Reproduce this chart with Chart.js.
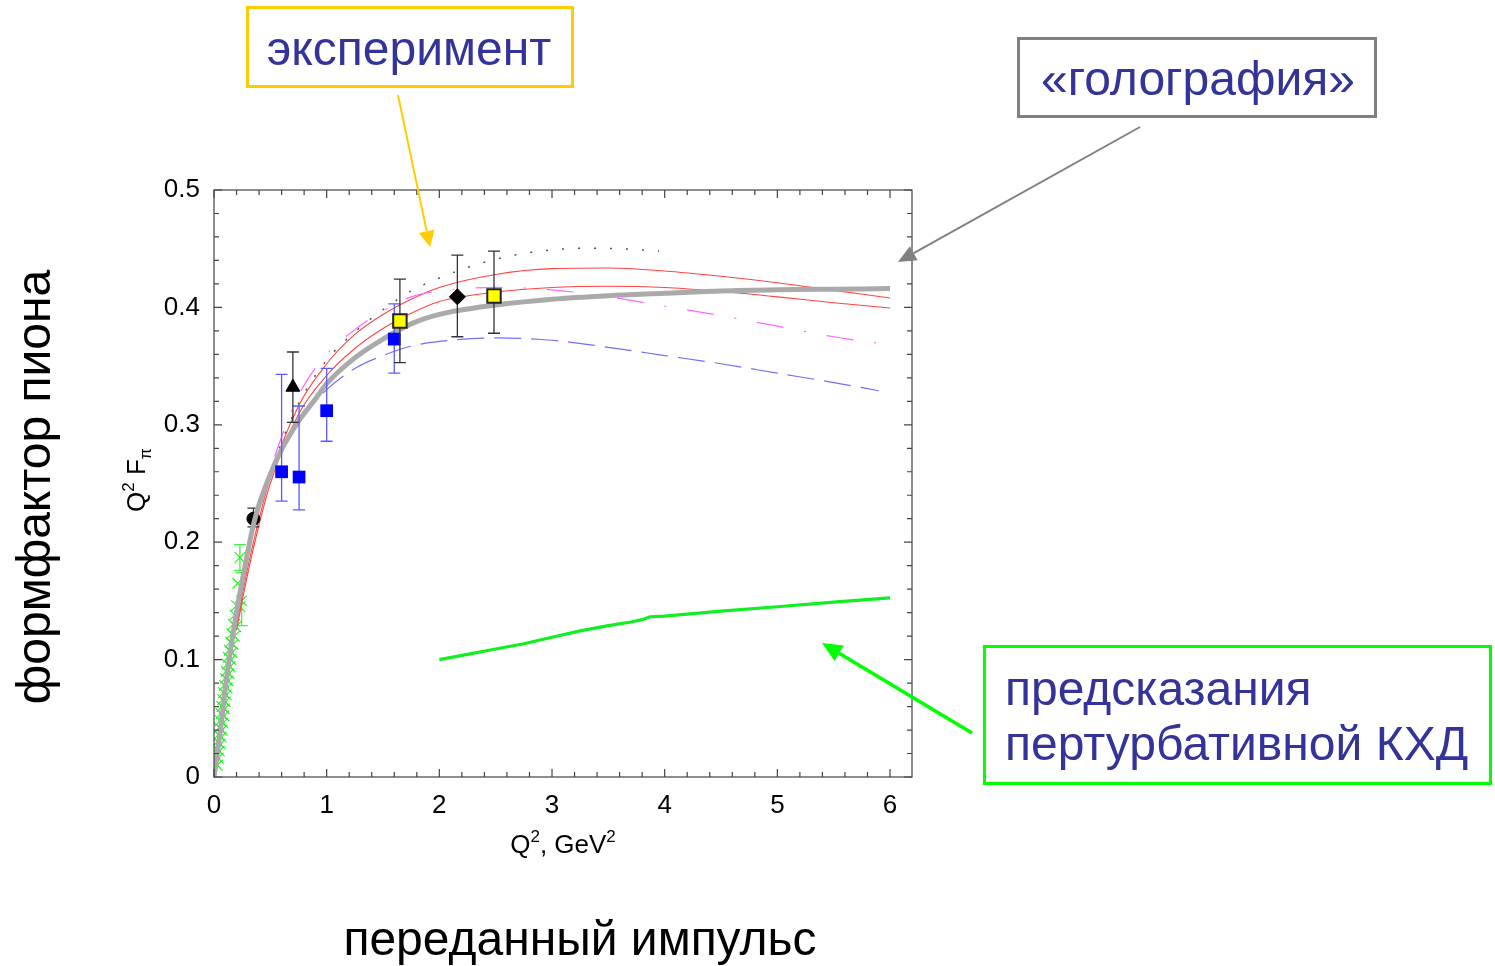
<!DOCTYPE html>
<html><head><meta charset="utf-8">
<script src="https://cdn.jsdelivr.net/npm/chart.js@4/dist/chart.umd.min.js"></script>
<style>html,body{margin:0;padding:0;background:#fff;overflow:hidden}canvas{display:block}</style>
</head><body>
<canvas id="c" width="1495" height="966"></canvas>
<script>
// ---------- data ----------
const xTicks = [0, 1, 2, 3, 4, 5, 6];
const xTickLabels = ['0', '1', '2', '3', '4', '5', '6'];
const yTicks = [0, 0.1, 0.2, 0.3, 0.4, 0.5];
const yTickLabels = ['0', '0.1', '0.2', '0.3', '0.4', '0.5'];

// holographic model (thick grey)
const holoQ2 = [0, 0.03, 0.06, 0.1, 0.15, 0.2, 0.25, 0.3, 0.35, 0.4, 0.5, 0.6, 0.75, 0.9, 1.0, 1.25, 1.5, 1.75, 2.0, 2.5, 3.0, 3.5, 4.0, 4.5, 5.0, 5.5, 6.0];
const holoF  = [0, 0.02, 0.042, 0.075, 0.11, 0.14, 0.167, 0.192, 0.215, 0.232, 0.258, 0.279, 0.303, 0.322, 0.335, 0.357, 0.373, 0.386, 0.394, 0.402, 0.407, 0.41, 0.412, 0.414, 0.415, 0.4155, 0.416];

// red band
const redQ2  = [0.2, 0.25, 0.35, 0.5, 0.75, 1.0, 1.25, 1.5, 1.75, 2.0, 2.5, 3.0, 3.5, 4.0, 4.5, 5.0, 5.5, 6.0];
const redUpF = [0.128, 0.155, 0.2, 0.255, 0.316, 0.352, 0.377, 0.394, 0.407, 0.417, 0.428, 0.433, 0.4335, 0.431, 0.4265, 0.421, 0.4145, 0.408];
const redLoF = [0.125, 0.15, 0.195, 0.25, 0.309, 0.342, 0.365, 0.382, 0.395, 0.405, 0.413, 0.417, 0.418, 0.417, 0.4135, 0.409, 0.404, 0.3995];

// dotted black
const dotQ2 = [0, 0.1, 0.2, 0.35, 0.5, 0.75, 1.0, 1.25, 1.5, 1.75, 2.0, 2.25, 2.5, 2.75, 3.0, 3.3, 3.6, 3.95];
const dotF  = [0, 0.075, 0.14, 0.215, 0.26, 0.318, 0.355, 0.379, 0.398, 0.414, 0.425, 0.434, 0.441, 0.446, 0.449, 0.4505, 0.45, 0.448];

// magenta dash-dot
const magQ2 = [0.35, 0.5, 0.75, 1.0, 1.25, 1.5, 1.75, 2.0, 2.5, 3.0, 3.5, 4.0, 4.5, 5.0, 5.5, 6.0];
const magF  = [0.215, 0.262, 0.325, 0.36, 0.381, 0.397, 0.409, 0.414, 0.417, 0.415, 0.409, 0.401, 0.393, 0.384, 0.375, 0.368];

// blue long dash
const blueQ2 = [0.75, 1.0, 1.25, 1.5, 1.75, 2.0, 2.5, 3.0, 3.5, 4.0, 4.5, 5.0, 5.5, 5.9];
const blueF  = [0.303, 0.33, 0.348, 0.359, 0.367, 0.371, 0.374, 0.372, 0.366, 0.359, 0.352, 0.344, 0.336, 0.329];

// perturbative QCD (green)
const pqcdQ2 = [2.0, 2.25, 2.5, 2.75, 3.0, 3.25, 3.5, 3.7, 3.8, 3.87, 4.0, 4.5, 5.0, 5.5, 6.0];
const pqcdF  = [0.1, 0.1045, 0.109, 0.1135, 0.119, 0.1245, 0.129, 0.132, 0.134, 0.1365, 0.137, 0.1413, 0.145, 0.149, 0.1525];

// low-Q2 data (green crosses)
const na7Q2 = [0.008, 0.03, 0.016, 0.038, 0.024, 0.047, 0.032, 0.056, 0.04, 0.064, 0.048, 0.072, 0.056, 0.08, 0.063, 0.087, 0.07, 0.094, 0.077, 0.1, 0.084, 0.108, 0.092, 0.116, 0.101, 0.125, 0.109, 0.133, 0.118, 0.142, 0.126, 0.15, 0.135, 0.159, 0.146, 0.17, 0.157, 0.181, 0.171, 0.195, 0.185, 0.2, 0.23, 0.21, 0.23, 0.245];
const na7F  = [0.012, 0.01, 0.018, 0.016, 0.024, 0.022, 0.03, 0.028, 0.036, 0.034, 0.042, 0.04, 0.048, 0.046, 0.054, 0.052, 0.06, 0.058, 0.066, 0.064, 0.072, 0.07, 0.078, 0.076, 0.084, 0.082, 0.09, 0.088, 0.096, 0.094, 0.102, 0.1, 0.108, 0.106, 0.115, 0.113, 0.122, 0.12, 0.13, 0.128, 0.138, 0.146, 0.145, 0.165, 0.187, 0.15];
const na7Lo = [null, null, null, null, null, null, null, null, null, null, null, null, null, null, null, null, null, null, null, null, null, null, null, null, null, null, null, null, null, null, null, null, null, null, null, null, null, null, null, null, null, null, null, null, 0.176, 0.129];
const na7Hi = [null, null, null, null, null, null, null, null, null, null, null, null, null, null, null, null, null, null, null, null, null, null, null, null, null, null, null, null, null, null, null, null, null, null, null, null, null, null, null, null, null, null, null, null, 0.198, 0.174];

// experimental points
const circQ2 = [0.35],  circF = [0.22],  circLo = [0.213], circHi = [0.229];
const triQ2  = [0.70],  triF  = [0.332], triLo  = [0.302], triHi  = [0.362];
const bsqQ2  = [0.60, 0.755, 1.0, 1.6];
const bsqF   = [0.26, 0.2555, 0.312, 0.373];
const bsqLo  = [0.235, 0.2275, 0.286, 0.344];
const bsqHi  = [0.343, 0.316, 0.348, 0.403];
const ysqQ2  = [1.65, 2.485];
const ysqF   = [0.3884, 0.4097];
const ysqLo  = [0.353, 0.378];
const ysqHi  = [0.424, 0.448];
const diaQ2  = [2.16], diaF = [0.409], diaLo = [0.375], diaHi = [0.4446];

// ---------- helpers ----------
const pts = (xs, ys) => xs.map((x, i) => ({ x: x, y: ys[i] }));
const FONT = "'Liberation Sans', Arial, sans-serif";
Chart.defaults.font.family = FONT;

const curve = (xs, ys, color, width, dash, order, extra) => Object.assign({
  data: pts(xs, ys), borderColor: color, backgroundColor: color, borderWidth: width,
  borderDash: dash || [], pointRadius: 0, showLine: true, fill: false,
  cubicInterpolationMode: 'monotone', order: order
}, extra || {});

const marks = (xs, ys, lo, hi, style, r, fill, stroke, bw, errColor, order) => ({
  data: pts(xs, ys), showLine: false, pointStyle: style, pointRadius: r,
  backgroundColor: fill, borderColor: stroke, borderWidth: bw, order: order,
  errLo: lo, errHi: hi, errColor: errColor
});

// ---------- plugins ----------
const errorBars = {
  id: 'errorBars',
  beforeDatasetDraw(chart, args) {
    const ds = chart.data.datasets[args.index];
    if (!ds.errLo) return;
    const xs = chart.scales.x, ys = chart.scales.y, ctx = chart.ctx;
    ctx.save();
    ctx.strokeStyle = ds.errColor; ctx.lineWidth = 1.3;
    ds.data.forEach((p, i) => {
      if (ds.errLo[i] == null) return;
      const px = xs.getPixelForValue(p.x);
      const y1 = ys.getPixelForValue(ds.errLo[i]);
      const y2 = ys.getPixelForValue(ds.errHi[i]);
      const c = 6;
      ctx.beginPath();
      ctx.moveTo(px, y1); ctx.lineTo(px, y2);
      ctx.moveTo(px - c, y1); ctx.lineTo(px + c, y1);
      ctx.moveTo(px - c, y2); ctx.lineTo(px + c, y2);
      ctx.stroke();
    });
    ctx.restore();
  }
};

function drawRich(ctx, parts, x, y, align) {
  let total = 0;
  parts.forEach(p => { ctx.font = p[1] + 'px ' + FONT; total += ctx.measureText(p[0]).width; });
  let cx = align === 'center' ? x - total / 2 : x;
  ctx.textAlign = 'left';
  parts.forEach(p => {
    ctx.font = p[1] + 'px ' + FONT;
    ctx.fillText(p[0], cx, y + p[2]);
    cx += ctx.measureText(p[0]).width;
  });
}

function arrow(ctx, x1, y1, x2, y2, color, w, head, half) {
  const a = Math.atan2(y2 - y1, x2 - x1);
  const bx = x2 - head * Math.cos(a), by = y2 - head * Math.sin(a);
  ctx.save();
  ctx.strokeStyle = color; ctx.fillStyle = color; ctx.lineWidth = w;
  ctx.beginPath(); ctx.moveTo(x1, y1); ctx.lineTo(bx, by); ctx.stroke();
  ctx.beginPath();
  ctx.moveTo(x2, y2);
  ctx.lineTo(bx + half * Math.sin(a), by - half * Math.cos(a));
  ctx.lineTo(bx - half * Math.sin(a), by + half * Math.cos(a));
  ctx.closePath(); ctx.fill();
  ctx.restore();
}

const frame = {
  id: 'frame',
  afterDatasetsDraw(chart) {
    const ctx = chart.ctx, a = chart.chartArea, xs = chart.scales.x, ys = chart.scales.y;
    ctx.save();
    ctx.strokeStyle = '#444'; ctx.lineWidth = 1.2;
    ctx.strokeRect(a.left, a.top, a.right - a.left, a.bottom - a.top);
    ctx.beginPath();
    for (let k = 0; k <= 30; k++) {
      const v = k * 0.2; if (v > xs.max) break;
      const len = (k % 5 === 0) ? 8 : 5;
      const px = xs.getPixelForValue(v);
      ctx.moveTo(px, a.bottom); ctx.lineTo(px, a.bottom - len);
      ctx.moveTo(px, a.top); ctx.lineTo(px, a.top + len);
    }
    for (let k = 0; k <= 25; k++) {
      const v = k * 0.02;
      const len = (k % 5 === 0) ? 8 : 5;
      const py = ys.getPixelForValue(v);
      ctx.moveTo(a.left, py); ctx.lineTo(a.left + len, py);
      ctx.moveTo(a.right, py); ctx.lineTo(a.right - len, py);
    }
    ctx.stroke();
    ctx.restore();
  },
  afterDraw(chart) {
    const ctx = chart.ctx;
    ctx.save();
    ctx.fillStyle = '#000'; ctx.textBaseline = 'alphabetic';
    // x axis title
    drawRich(ctx, [['Q', 26, 0], ['2', 17, -11], [', GeV', 26, 0], ['2', 17, -11]], 563, 853, 'center');
    // y axis title
    ctx.save();
    ctx.translate(145, 480); ctx.rotate(-Math.PI / 2);
    drawRich(ctx, [['Q', 26, 0], ['2', 17, -11], [' F', 26, 0], ['π', 16, 6]], 0, 0, 'center');
    ctx.restore();
    // big labels
    ctx.font = '48px ' + FONT; ctx.textAlign = 'center';
    ctx.fillText('переданный импульс', 580, 955);
    ctx.save(); ctx.translate(50, 487); ctx.rotate(-Math.PI / 2);
    ctx.fillText('формфактор пиона', 0, 0); ctx.restore();
    // annotation boxes
    ctx.lineWidth = 3;
    ctx.strokeStyle = '#ffcc00'; ctx.strokeRect(247.5, 7.5, 325, 79);
    ctx.strokeStyle = '#808080'; ctx.strokeRect(1018.5, 38.5, 357, 78);
    ctx.strokeStyle = '#00ff00'; ctx.strokeRect(984.5, 646.5, 506, 137);
    ctx.fillStyle = '#333399';
    ctx.font = '48px ' + FONT; ctx.textAlign = 'center';
    ctx.fillText('эксперимент', 409, 65);
    ctx.fillText('«голография»', 1198, 95);
    ctx.textAlign = 'left';
    ctx.fillText('предсказания', 1005, 705);
    ctx.fillText('пертурбативной КХД', 1005, 760);
    // arrows
    arrow(ctx, 398, 95, 430, 247, '#ffcc00', 2, 16, 8);
    arrow(ctx, 1140, 127, 898, 262, '#808080', 2, 18, 8);
    arrow(ctx, 972, 733, 822, 643, '#00ff00', 3.5, 20, 9);
    ctx.restore();
  }
};

// ---------- chart ----------
const datasets = [
  marks(na7Q2, na7F, na7Lo, na7Hi, 'crossRot', 7.5, '#22f022', '#22f022', 1.1, '#44ee44', 20),
  curve(pqcdQ2, pqcdF, '#11ee22', 3.2, [], 8, { cubicInterpolationMode: 'default', tension: 0 }),
  curve(blueQ2, blueF, '#6f6fff', 1.2, [27, 10], 9),
  curve(magQ2, magF, '#ff66ff', 1.2, [27, 21, 2, 21], 9),
  curve(dotQ2, dotF, '#555555', 1.5, [2, 14], 9),
  curve(redQ2, redUpF, '#ff4444', 1.1, [], 9),
  curve(redQ2, redLoF, '#ff4444', 1.1, [], 9),
  marks(circQ2, circF, circLo, circHi, 'circle', 6.5, '#000', '#000', 1, '#333', 8),
  curve(holoQ2, holoF, '#aaaaaa', 5, [], 7),
  marks(triQ2, triF, triLo, triHi, 'triangle', 8, '#000', '#000', 1, '#333', 3),
  marks(bsqQ2, bsqF, bsqLo, bsqHi, 'rect', 9, '#0000ff', '#0000ff', 0, '#5a5aff', 4),
  marks(ysqQ2, ysqF, ysqLo, ysqHi, 'rect', 9.5, '#ffff00', '#222', 2, '#333', 2),
  marks(diaQ2, diaF, diaLo, diaHi, 'rectRot', 8, '#000', '#000', 1, '#333', 2)
];

new Chart(document.getElementById('c').getContext('2d'), {
  type: 'line',
  data: { datasets: datasets },
  options: {
    responsive: false, animation: false, devicePixelRatio: 1,
    layout: { padding: { left: 0, top: 190, right: 583, bottom: 0 } },
    plugins: { legend: { display: false }, tooltip: { enabled: false } },
    scales: {
      x: {
        type: 'linear', min: 0, max: 6.195,
        afterFit(s) { s.height = 189; },
        afterBuildTicks(s) { s.ticks = xTicks.map(v => ({ value: v })); },
        ticks: { callback: (v, i) => xTickLabels[i], padding: 13, color: '#000', font: { size: 26 }, maxRotation: 0, autoSkip: false },
        grid: { display: false, drawTicks: false }, border: { display: false }
      },
      y: {
        type: 'linear', min: 0, max: 0.5,
        afterFit(s) { s.width = 214; },
        afterBuildTicks(s) { s.ticks = yTicks.map(v => ({ value: v })); },
        ticks: { callback: (v, i) => yTickLabels[i], padding: 14, color: '#000', font: { size: 26 }, autoSkip: false },
        grid: { display: false, drawTicks: false }, border: { display: false }
      }
    }
  },
  plugins: [errorBars, frame]
});
</script>
</body></html>
